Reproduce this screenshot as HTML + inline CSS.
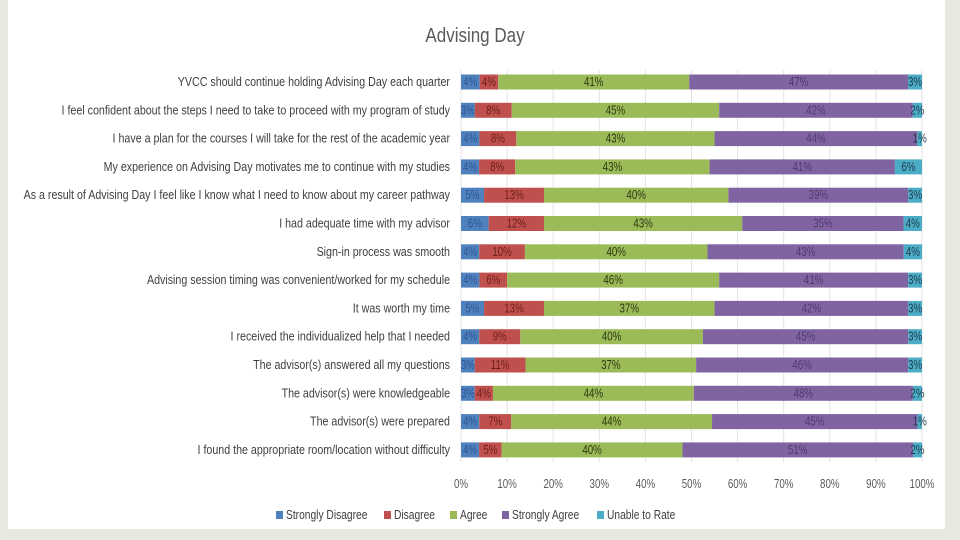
<!DOCTYPE html>
<html><head><meta charset="utf-8"><style>
html,body{margin:0;padding:0;background:#e9eadf;}
svg{display:block;font-family:"Liberation Sans Narrow","Liberation Sans",sans-serif;}
</style></head><body>
<svg width="960" height="540" viewBox="0 0 960 540">
<rect x="8" y="0" width="937" height="529" fill="#ffffff"/>
<text transform="translate(475,42) scale(0.85,1)" text-anchor="middle" font-size="20" fill="#595959">Advising Day</text>
<g id="grid"></g><g id="bars"></g><g id="labels"></g><g id="ticks"></g><g id="legend"></g>
</svg>
<script>
const categories=["YVCC should continue holding Advising Day each quarter","I feel confident about the steps I need to take to proceed with my program of study","I have a plan for the courses I will take for the rest of the academic year","My experience on Advising Day motivates me to continue with my studies","As a result of Advising Day I feel like I know what I need to know about my career pathway","I had adequate time with my advisor","Sign-in process was smooth","Advising session timing was convenient/worked for my schedule","It was worth my time","I received the individualized help that I needed","The advisor(s) answered all my questions","The advisor(s) were knowledgeable","The advisor(s) were prepared","I found the appropriate room/location without difficulty"];
const stronglyDisagree=[4,3,4,4,5,6,4,4,5,4,3,3,4,4];
const disagree=[4,8,8,8,13,12,10,6,13,9,11,4,7,5];
const agree=[41,45,43,43,40,43,40,46,37,40,37,44,44,40];
const stronglyAgree=[47,42,44,41,39,35,43,41,42,45,46,48,45,51];
const unableToRate=[3,2,1,6,3,4,4,3,3,3,3,2,1,2];
const seriesNames=["Strongly Disagree","Disagree","Agree","Strongly Agree","Unable to Rate"];
const tickLabels=["0%","10%","20%","30%","40%","50%","60%","70%","80%","90%","100%"];
const series=[stronglyDisagree,disagree,agree,stronglyAgree,unableToRate];
const colors=["#4f81bd","#c0504d","#9bbb59","#8064a2","#4bacc6"];
const labelColors=["#2f5597","#6b1f1d","#2b3a10","#4e3a6e","#1f3b4d"];
const NS="http://www.w3.org/2000/svg";
const X0=461,X1=922,Y0=82,DY=28.3,BH=15,SX=0.78,CSX=0.855;
const x=v=>X0+(X1-X0)*v/100;
const y=i=>Y0+i*DY;
function mk(t,a,p,txt){const e=document.createElementNS(NS,t);for(const k in a)e.setAttribute(k,a[k]);if(txt!==undefined)e.textContent=txt;p.appendChild(e);return e;}
const G=document.getElementById('grid'),B=document.getElementById('bars'),L=document.getElementById('labels'),T=document.getElementById('ticks'),LG=document.getElementById('legend');
tickLabels.forEach((t,i)=>{
  const v=i*10;
  const gl=mk('line',{x1:x(v),x2:x(v),y1:70,y2:462,stroke:'#e3e3e3','stroke-width':1},G);
  
  
  const tl=mk('text',{transform:`translate(${x(v)},488) scale(${SX},1)`,'text-anchor':'middle','font-size':12.5,fill:'#595959'},T,t);
  
  
});
categories.forEach((c,i)=>{
  const cl=mk('text',{transform:`translate(450,${y(i)+4}) scale(${CSX},1)`,'text-anchor':'end','font-size':12.5,fill:'#404040'},L,c);
  
  
  const tot=series.reduce((s,a)=>s+a[i],0);
  let cum=0;
  series.forEach((s,k)=>{
    const v=s[i]*100/tot;
    const r=mk('rect',{x:x(cum),y:y(i)-BH/2,width:x(cum+v)-x(cum),height:BH,fill:colors[k]},B);
    
    
    const t=mk('text',{transform:`translate(${(x(cum)+x(cum+v))/2},${y(i)+4}) scale(${SX},1)`,'text-anchor':'middle','font-size':12.5,fill:labelColors[k]},B,s[i]+'%');
    
    
    cum+=v;
  });
});
const lx=[276,384,450,502,597];
seriesNames.forEach((n,k)=>{
  const r=mk('rect',{x:lx[k],y:511,width:7,height:8,fill:colors[k]},LG);
  
  
  const t=mk('text',{transform:`translate(${lx[k]+10},519) scale(0.82,1)`,'font-size':12.5,fill:'#404040'},LG,n);
  
  
});
</script>
</body></html>
